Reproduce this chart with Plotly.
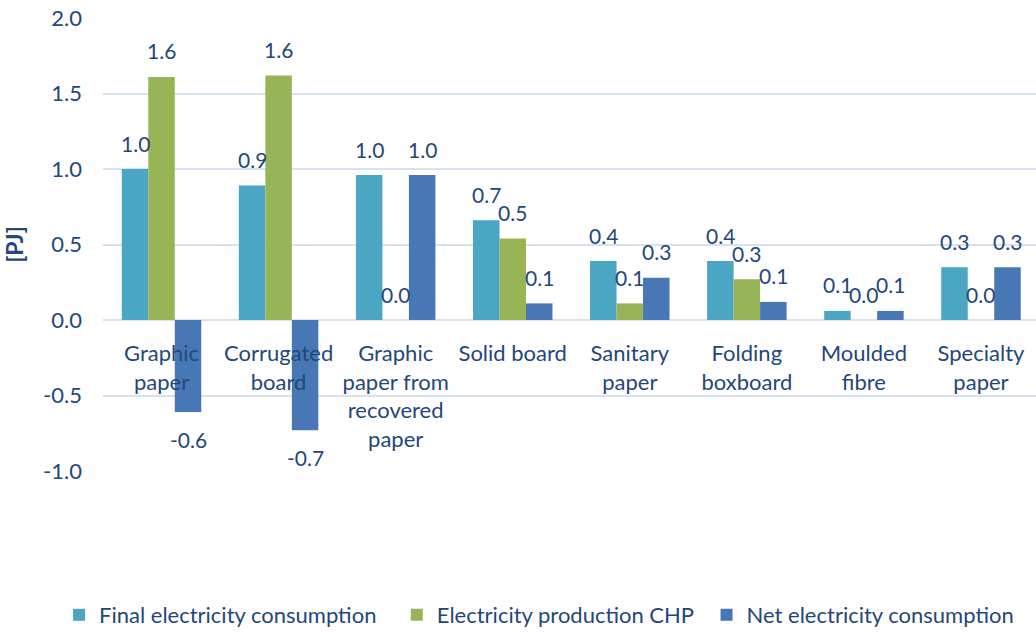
import plotly.graph_objects as go

categories = ["Graphic<br>paper", "Corrugated<br>board", "Graphic<br>paper from<br>recovered<br>paper",
              "Solid board", "Sanitary<br>paper", "Folding<br>boxboard", "Moulded<br>fibre", "Specialty<br>paper"]
final_consumption = [1.00, 0.89, 0.96, 0.66, 0.39, 0.39, 0.06, 0.35]
chp_production = [1.61, 1.62, 0.0, 0.54, 0.11, 0.27, 0.0, 0.0]
net_consumption = [-0.61, -0.73, 0.96, 0.11, 0.28, 0.12, 0.06, 0.35]
y_ticks = [-1.0, -0.5, 0.0, 0.5, 1.0, 1.5, 2.0]

series = [
    ("Final electricity consumption", final_consumption, "#4AA6C2"),
    ("Electricity production CHP", chp_production, "#97B557"),
    ("Net electricity consumption", net_consumption, "#4877B5"),
]
# one legend box per series, laid out along the bottom (container fractions)
legend_ids = ["legend", "legend2", "legend3"]
legend_x = [0.057, 0.383, 0.682]

FONT = "Lato"
TEXT = "#24477A"
BARGAP = 0.321
bar_w = (1 - BARGAP) / len(series)
x_idx = list(range(len(categories)))

fig = go.Figure()
annotations = []
for i, (name, vals, color) in enumerate(series):
    fig.add_trace(go.Bar(
        name=name, x=x_idx, y=vals, legend=legend_ids[i], showlegend=True,
        marker=dict(color=color, line=dict(width=0)),
    ))
    offset = (i - (len(series) - 1) / 2) * bar_w
    for xi, v in zip(x_idx, vals):
        annotations.append(dict(
            x=xi + offset, y=v, xref="x", yref="y",
            text=f"{v:.1f}", showarrow=False,
            yanchor="middle", yshift=26 if v >= 0 else -27,
            font=dict(family=FONT, size=21, color=TEXT),
        ))

legend_style = dict(orientation="h", xref="container", xanchor="left",
                    yref="container", y=(632 - 615) / 632, yanchor="middle",
                    font=dict(family=FONT, size=22, color=TEXT), itemwidth=30,
                    bgcolor="rgba(0,0,0,0)")

fig.update_layout(
    width=1036, height=632,
    margin=dict(l=103, r=0, t=18, b=161, autoexpand=False),
    paper_bgcolor="white", plot_bgcolor="white",
    barmode="group", bargap=BARGAP, bargroupgap=0,
    font=dict(family=FONT, color=TEXT),
    annotations=annotations,
    legend=dict(x=legend_x[0], **legend_style),
    legend2=dict(x=legend_x[1], **legend_style),
    legend3=dict(x=legend_x[2], **legend_style),
    yaxis=dict(range=[-1.0, 2.0], tickvals=y_ticks, ticktext=[f"{t:.1f}" for t in y_ticks],
               showgrid=True, gridcolor="#D6E2F1", gridwidth=1.5,
               zeroline=True, zerolinecolor="#D6E2F1", zerolinewidth=1.5,
               tickfont=dict(family=FONT, size=22, color=TEXT), ticks="", ticklabelstandoff=20,
               title=dict(text="<b>[PJ]</b>", font=dict(family=FONT, size=23, color=TEXT), standoff=16),
               showline=False),
    xaxis=dict(range=[-0.5, 7.47], anchor="free", position=1/3, showline=False, ticks="",
               tickvals=x_idx, ticktext=categories, ticklabelstandoff=18,
               tickfont=dict(family=FONT, size=22, color=TEXT), showgrid=False, tickangle=0),
)

fig.write_html("out.html")
